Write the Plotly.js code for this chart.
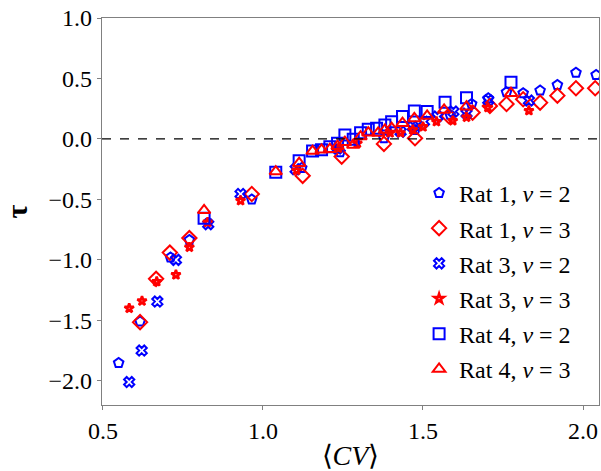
<!DOCTYPE html>
<html><head><meta charset="utf-8">
<script src="https://cdn.plot.ly/plotly-3.0.1.min.js"></script>
<style>html,body{margin:0;padding:0;background:#fff}#plot{width:601px;height:471px}</style>
</head><body><div id="plot"></div>
<script>
const r1v2_x = [0.549,0.616,0.711,0.770,0.965,1.121,1.241,1.378,1.475,1.585,1.652,1.704,1.761,1.813,1.866,1.920,1.978,2.041];
const r1v2_y = [-1.852,-1.51,-0.98,-0.835,-0.50,-0.24,-0.11,0.006,0.074,0.20,0.289,0.336,0.386,0.378,0.40,0.446,0.548,0.529];
const r1v3_x = [0.616,0.666,0.709,0.770,0.965,1.124,1.246,1.378,1.475,1.580,1.655,1.709,1.761,1.813,1.866,1.920,1.978,2.038];
const r1v3_y = [-1.515,-1.157,-0.94,-0.82,-0.455,-0.305,-0.146,-0.041,0.006,0.19,0.218,0.273,0.289,0.328,0.30,0.358,0.419,0.419];
const r3v2_x = [0.582,0.621,0.670,0.728,0.829,0.930,1.102,1.233,1.430,1.468,1.503,1.545,1.595,1.636,1.704,1.831];
const r3v2_y = [-2.01,-1.75,-1.345,-1.0,-0.705,-0.455,-0.25,-0.08,0.06,0.10,0.143,0.185,0.226,0.21,0.32,0.317];
const r3v3_x = [0.582,0.622,0.668,0.728,0.770,0.827,0.930,1.105,1.236,1.295,1.397,1.430,1.468,1.500,1.542,1.593,1.636,1.703,1.831];
const r3v3_y = [-1.40,-1.34,-1.18,-1.124,-0.895,-0.69,-0.51,-0.26,-0.077,-0.036,0.05,0.05,0.075,0.10,0.143,0.151,0.18,0.26,0.234];
const r4v2_x = [0.816,1.040,1.113,1.155,1.183,1.209,1.233,1.256,1.282,1.305,1.329,1.355,1.381,1.402,1.436,1.473,1.513,1.569,1.636,1.775];
const r4v2_y = [-0.655,-0.275,-0.18,-0.10,-0.09,-0.064,-0.036,0.033,-0.003,0.052,0.08,0.088,0.116,0.143,0.185,0.231,0.226,0.303,0.341,0.469];
const r4v3_x = [0.816,1.040,1.113,1.155,1.183,1.209,1.233,1.256,1.282,1.305,1.329,1.360,1.381,1.402,1.436,1.473,1.513,1.566,1.636,1.775];
const r4v3_y = [-0.59,-0.27,-0.20,-0.10,-0.09,-0.085,-0.06,-0.027,-0.05,0.02,0.052,0.05,0.074,0.09,0.13,0.17,0.19,0.24,0.267,0.378];
const names = ['Rat 1, <i>v</i> = 2','Rat 1, <i>v</i> = 3','Rat 3, <i>v</i> = 2','Rat 3, <i>v</i> = 3','Rat 4, <i>v</i> = 2','Rat 4, <i>v</i> = 3'];
const xs = [r1v2_x,r1v3_x,r3v2_x,r3v3_x,r4v2_x,r4v3_x];
const ys = [r1v2_y,r1v3_y,r3v2_y,r3v3_y,r4v2_y,r4v3_y];
const colors = ['#0000ff','#ff0000','#0000ff','#ff0000','#0000ff','#ff0000'];
const symbols = ['pentagon-open','diamond-open','x-open','star-open','square-open','triangle-up-open'];
const sizes = [10,11,9,7,11,11];
const widths = [2,2,2,2.5,2,2];
const traces = names.map((n,i)=>({
  x: xs[i], y: ys[i], name: n, type:'scatter', mode:'markers', legendgroup:'g'+i,
  marker:{symbol:symbols[i], size:sizes[i], color:colors[i], line:{color:colors[i], width:widths[i]}}
}));
const fam = 'Liberation Serif';
const layout = {
  width:601, height:471,
  margin:{l:102, r:2, t:18, b:66},
  paper_bgcolor:'#fff', plot_bgcolor:'#fff',
  font: {family:fam, color:'#000', size:24},
  showlegend:true,
  legend:{x:0.638, xanchor:'left', y:0.605, yanchor:'top', bgcolor:'rgba(255,255,255,0)',
    font:{family:fam, size:24, color:'#000'}, tracegroupgap:1, itemsizing:'trace'},
  xaxis:{range:[0.497,2.05], tickvals:[0.5,1.0,1.5,2.0], ticktext:['0.5','1.0','1.5','2.0'],
    showgrid:false, zeroline:false, showline:true, mirror:true, linecolor:'#808080', linewidth:1.2,
    ticks:'outside', ticklen:4, tickcolor:'#808080', tickfont:{family:fam, size:24, color:'#000'},
    title:{text:'⟨<i>CV</i>⟩', font:{family:fam, size:28, color:'#000'}, standoff:10}},
  yaxis:{range:[-2.2,1.0], tickvals:[-2,-1.5,-1,-0.5,0,0.5,1.0], ticktext:['−2.0','−1.5','−1.0','−0.5','0.0','0.5','1.0'],
    showgrid:false, zeroline:false, showline:true, mirror:true, linecolor:'#808080', linewidth:1.2,
    ticks:'outside', ticklen:4, tickcolor:'#808080', tickfont:{family:fam, size:24, color:'#000'},
    title:{text:'<b>τ</b>', font:{family:fam, size:30, color:'#000'}, standoff:20}},
  shapes:[{type:'line', xref:'paper', yref:'y', x0:0, x1:1, y0:0, y1:0, line:{color:'#000', width:1.2, dash:'dash'}}]
};
Plotly.newPlot('plot', traces, layout, {displayModeBar:false, staticPlot:true});
</script></body></html>
